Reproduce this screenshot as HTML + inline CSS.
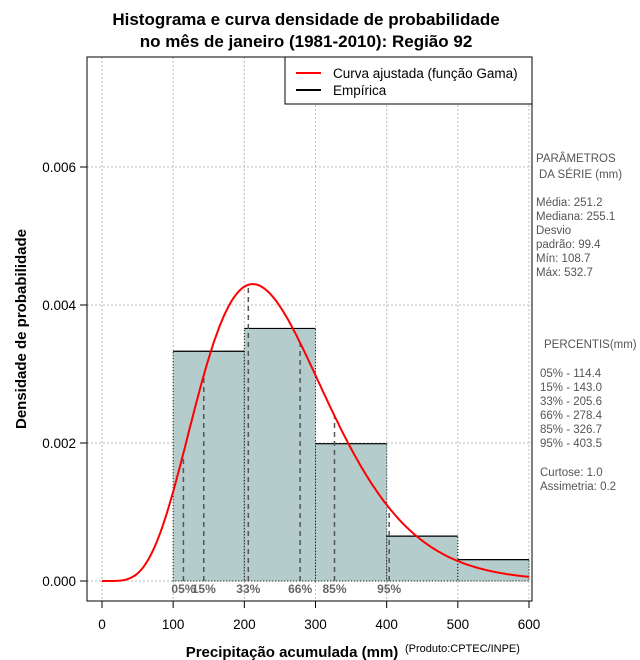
<!DOCTYPE html>
<html><head><meta charset="utf-8"><style>
body{margin:0;background:#fff}
svg{display:block;font-family:"Liberation Sans",sans-serif}
</style></head><body>
<svg id="chart" width="640" height="660" viewBox="0 0 640 660">
<text x="306" y="25" text-anchor="middle" font-size="17" font-weight="bold">Histograma e curva densidade de probabilidade</text>
<text x="306" y="47" text-anchor="middle" font-size="17" font-weight="bold">no mês de janeiro (1981-2010): Região 92</text>
<g id="grid"></g>
<g id="bars"></g>
<g id="pct"></g>
<path id="curve" fill="none" stroke="#ff0000" stroke-width="2"/>
<rect x="87" y="57" width="445" height="544" fill="none" stroke="#000" stroke-width="1"/>
<g id="axes"></g>
<g>
<rect x="285" y="57" width="247" height="47" fill="#fff" stroke="#000"/>
<line x1="296" y1="73" x2="321" y2="73" stroke="#ff0000" stroke-width="2"/>
<text x="333" y="78" font-size="13.5">Curva ajustada (função Gama)</text>
<line x1="296" y1="90" x2="321" y2="90" stroke="#000" stroke-width="2"/>
<text x="333" y="95" font-size="13.5">Empírica</text>
</g>
<text x="292" y="657" text-anchor="middle" font-size="15" font-weight="bold">Precipitação acumulada (mm)</text>
<text x="405" y="652" font-size="11">(Produto:CPTEC/INPE)</text>
<text transform="translate(26,329) rotate(-90)" text-anchor="middle" font-size="15" font-weight="bold">Densidade de probabilidade</text>
<g font-size="11.5" fill="#555" style="white-space:pre">
<text x="536" y="162">PARÂMETROS</text>
<text x="539" y="178">DA SÉRIE (mm)</text>
<text x="536" y="206">Média:  251.2</text>
<text x="536" y="220">Mediana:  255.1</text>
<text x="536" y="234">Desvio</text>
<text x="536" y="248">padrão:  99.4</text>
<text x="536" y="262">Mín:  108.7</text>
<text x="536" y="276">Máx:  532.7</text>
<text x="544" y="348">PERCENTIS(mm)</text>
<text x="540" y="377">05% -  114.4</text>
<text x="540" y="391">15% -  143.0</text>
<text x="540" y="405">33% -  205.6</text>
<text x="540" y="419">66% -  278.4</text>
<text x="540" y="433">85% -  326.7</text>
<text x="540" y="447">95% -  403.5</text>
<text x="540" y="476">Curtose:  1.0</text>
<text x="540" y="490">Assimetria:  0.2</text>
</g>
</svg>
<script>
const binStarts=[100,200,300,400,500];
const binWidth=100;
const densities=[0.00333,0.00366,0.00199,0.00065,0.00031];
const xTicks=[0,100,200,300,400,500,600];
const yTicks=[0,0.002,0.004,0.006];
const yTickLabels=["0.000","0.002","0.004","0.006"];
const pctLabels=["05%","15%","33%","66%","85%","95%"];
const pctValues=[114.4,143.0,205.6,278.4,326.7,403.5];
const gammaMean=[251.2];
const gammaSd=[99.4];
const NS="http://www.w3.org/2000/svg";
const X=v=>102+v*(427/600);
const Y=v=>581-v*69000;
function mk(tag,attrs,parent){const e=document.createElementNS(NS,tag);for(const k in attrs)e.setAttribute(k,attrs[k]);parent.appendChild(e);return e;}
const k=(gammaMean[0]/gammaSd[0])**2, th=gammaSd[0]**2/gammaMean[0];
function lgamma(z){const c=[76.18009172947146,-86.50532032941677,24.01409824083091,-1.231739572450155,0.1208650973866179e-2,-0.5395239384953e-5];let x=z,y=z,t=x+5.5;t-=(x+0.5)*Math.log(t);let s=1.000000000190015;for(let j=0;j<6;j++)s+=c[j]/++y;return -t+Math.log(2.5066282746310005*s/x);}
const lg=lgamma(k);
const pdf=x=>x<=0?0:Math.exp((k-1)*Math.log(x)-x/th-lg-k*Math.log(th));
const grid=document.getElementById('grid'),bars=document.getElementById('bars'),pct=document.getElementById('pct'),axes=document.getElementById('axes');
xTicks.forEach(t=>{const l=mk('line',{x1:X(t),x2:X(t),y1:57,y2:601,stroke:'#bbb','stroke-dasharray':'2,2'},grid);});
yTicks.forEach(t=>{const l=mk('line',{x1:87,x2:532,y1:Y(t),y2:Y(t),stroke:'#bbb','stroke-dasharray':'2,2'},grid);});
binStarts.forEach((b,i)=>{const r=mk('rect',{x:X(b),y:Y(densities[i]),width:X(b+binWidth)-X(b),height:Y(0)-Y(densities[i]),fill:'#b4cccc',stroke:'#000','stroke-dasharray':'1,2'},bars);
const top=mk('line',{x1:X(b),x2:X(b+binWidth),y1:Y(densities[i]),y2:Y(densities[i]),stroke:'#000','stroke-width':1.2},bars);});
pctValues.forEach((v,i)=>{const l=mk('line',{x1:X(v),x2:X(v),y1:Y(0),y2:Y(pdf(v)),stroke:'#555','stroke-width':1.5,'stroke-dasharray':'5,4'},pct);
const t=mk('text',{x:X(v),y:593,'text-anchor':'middle','font-size':12,'font-weight':'bold',fill:'#666'},pct);t.textContent=pctLabels[i];});
let d='';for(let x=0;x<=600;x+=2){d+=(x?'L':'M')+X(x).toFixed(1)+','+Y(pdf(x)).toFixed(1);}
document.getElementById('curve').setAttribute('d',d);
xTicks.forEach(t=>{const l=mk('line',{x1:X(t),x2:X(t),y1:601,y2:608,stroke:'#000'},axes);
const tx=mk('text',{x:X(t),y:629,'text-anchor':'middle','font-size':13.5},axes);tx.textContent=t;});
yTicks.forEach((t,i)=>{const l=mk('line',{x1:80,x2:87,y1:Y(t),y2:Y(t),stroke:'#000'},axes);
const tx=mk('text',{x:76,y:Y(t)+5,'text-anchor':'end','font-size':13.5},axes);tx.textContent=yTickLabels[i];});
</script>
</body></html>
